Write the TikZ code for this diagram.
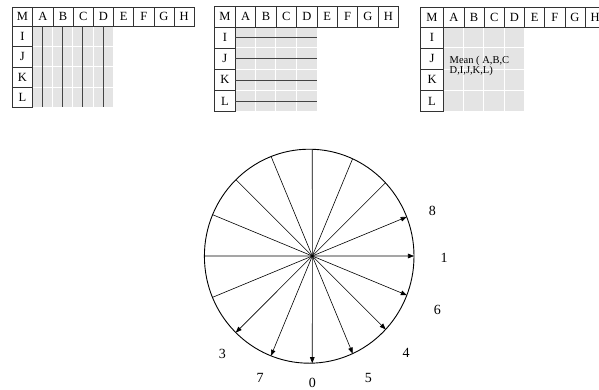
\documentclass[tikz,border=0pt]{standalone}
\usepackage{fontspec}
\setmainfont{Liberation Serif}
\usetikzlibrary{arrows.meta,intersections}
\definecolor{cellgrey}{HTML}{E4E4E4}
\definecolor{cellline}{HTML}{333333}
\definecolor{darkline}{HTML}{444444}
\tikzset{
  tcell/.style={draw=cellline, line width=0.8pt, fill=white, anchor=north west, inner sep=0pt,
    font=\fontsize{12.5}{12.5}\selectfont},
  whiteline/.style={white, line width=0.8pt},
  midline/.style={darkline, line width=0.9pt},
  rimline/.style={black, line width=0.9pt},
  rayline/.style={black, line width=0.6pt},
  arrowray/.style={black, line width=0.6pt, -{Triangle[length=6pt,width=4.6pt]}},
  numlbl/.style={font=\fontsize{14}{14}\selectfont, inner sep=0pt},
  meanlbl/.style={font=\fontsize{10.5}{10}\selectfont, inner sep=0pt, anchor=north west, align=left}
}
% #1 name, #2 x left, #3 M width, #4 col width, #5 y top, #6 header height, #7 row height
\newcommand{\gridtab}[7]{%
  \pgfmathsetmacro{\gx}{#2+#3}%
  \pgfmathsetmacro{\gy}{#5+#6}%
  \fill[cellgrey] (\gx,\gy) rectangle ++({4*#4},{4*#7});
  \foreach \i in {1,2,3}{
    \draw[whiteline] ({\gx+\i*#4},\gy) -- ++(0,{4*#7});
    \draw[whiteline] (\gx,{\gy+\i*#7}) -- ++({4*#4},0);
  }
  \node[tcell, minimum width=#3 pt, minimum height=#6 pt] (#1M) at (#2,#5) {M};
  \foreach \l [count=\k from 0] in {A,B,C,D,E,F,G,H}
    \node[tcell, minimum width=#4 pt, minimum height=#6 pt] (#1\l) at ({\gx+\k*#4},#5) {\l};
  \foreach \l [count=\k from 0] in {I,J,K,L}
    \node[tcell, minimum width=#3 pt, minimum height=#7 pt] (#1\l) at (#2,{\gy+\k*#7}) {\l};
}
\begin{document}
\begin{tikzpicture}[x=1pt,y=-1pt]
\useasboundingbox (0,0) rectangle (599,389);
% ---- tables ----
\gridtab{ta}{11.7}{20.6}{20.2}{6.7}{19.3}{20.3}
\foreach \x in {42.3,62.3,82.7,103.7}
  \draw[midline] (\x,26) -- (\x,107.3);
\gridtab{tb}{214}{21}{20.4}{6}{20.7}{21.1}
\foreach \y in {37.3,58.3,80,101}
  \draw[midline] (235,\y) -- (317.3,\y);
\gridtab{tc}{420}{23.3}{20.2}{6.7}{20}{21.1}
\node[meanlbl] (mean) at (449.5,56.5) {Mean ( A,B,C\\D,I,J,K,L)};
% ---- circle ----
\coordinate (O) at (312.3,256);
\draw[rimline, name path=rim] (309.2,256.2) ellipse [x radius=104.8, y radius=107];
\foreach \a/\n in {90/a,67.5/b,45/c,112.5/d,135/e,157.5/f,180/g,202.5/h,
                   22.5/i,0/j,-22.5/k,-45/l,-67.5/m,-90/n,-112.5/o,-135/p}{
  \path[name path=ray] (O) -- ++({cos(\a)*140},{-sin(\a)*140});
  \path[name intersections={of=rim and ray, by={E\n}}];
}
\foreach \n in {a,b,c,d,e,f,g,h}
  \draw[rayline] (O) -- (E\n);
\foreach \n in {i,j,k,l,m,n,o,p}
  \draw[arrowray] (O) -- (E\n);
% ---- labels ----
\node[numlbl] (l8) at (432.3,211) {8};
\node[numlbl] (l1) at (444,258.3) {1};
\node[numlbl] (l6) at (437.3,310) {6};
\node[numlbl] (l4) at (406,353.3) {4};
\node[numlbl] (l5) at (368.3,378.3) {5};
\node[numlbl] (l0) at (312.3,382.7) {0};
\node[numlbl] (l7) at (260,378.3) {7};
\node[numlbl] (l3) at (222.3,354) {3};
\end{tikzpicture}
\end{document}
